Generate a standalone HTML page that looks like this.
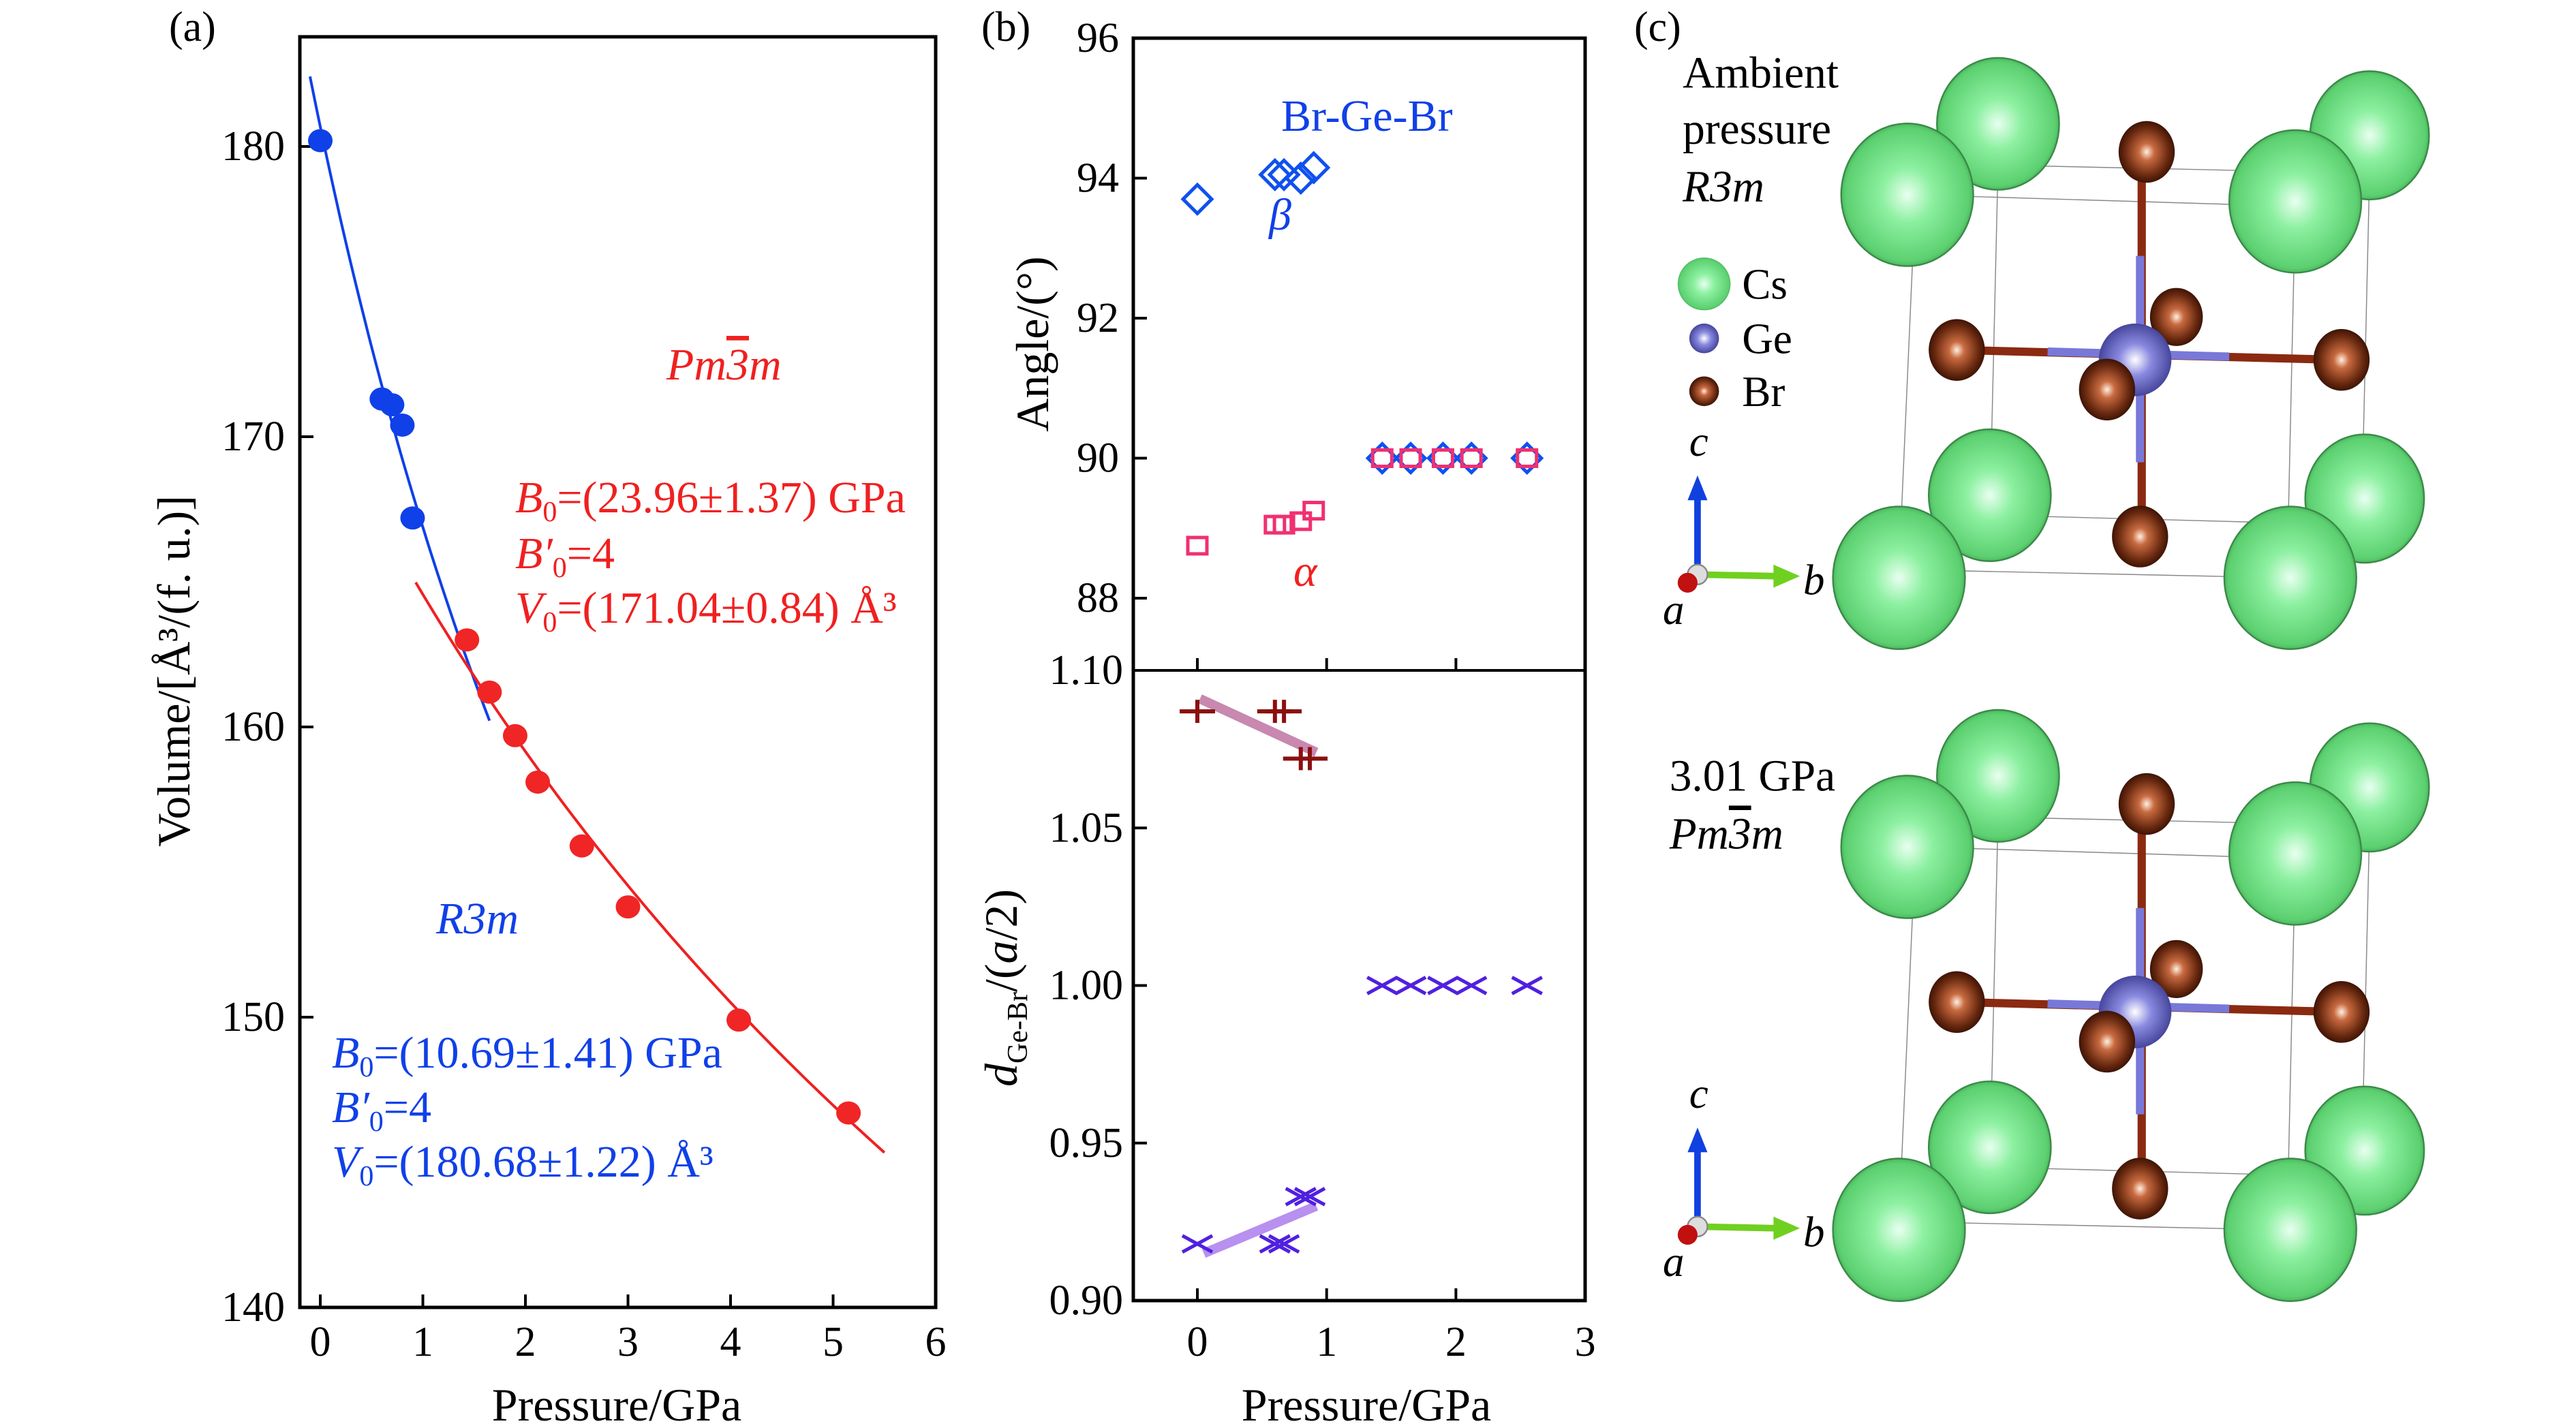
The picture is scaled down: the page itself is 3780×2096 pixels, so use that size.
<!DOCTYPE html>
<html><head><meta charset="utf-8"><style>
html,body{margin:0;padding:0;background:#fff}
svg{display:block}
text{font-family:"Liberation Serif",serif}
</style></head><body>
<svg id="fig" width="3780" height="2096" viewBox="0 0 3780 2096" xmlns="http://www.w3.org/2000/svg">
<defs>
<radialGradient id="gCs" cx="0.5" cy="0.5" r="0.55"><stop offset="0" stop-color="#e8fff0"/><stop offset="0.35" stop-color="#8cf0a0"/><stop offset="0.85" stop-color="#5cd070"/><stop offset="1" stop-color="#3a9048"/></radialGradient>
<radialGradient id="gBr" cx="0.5" cy="0.5" r="0.55"><stop offset="0" stop-color="#fff0e0"/><stop offset="0.25" stop-color="#c86a40"/><stop offset="0.7" stop-color="#6a2a10"/><stop offset="1" stop-color="#2a0a00"/></radialGradient>
<radialGradient id="gGe" cx="0.5" cy="0.5" r="0.55"><stop offset="0" stop-color="#ffffff"/><stop offset="0.4" stop-color="#8a8ae0"/><stop offset="1" stop-color="#3a3a90"/></radialGradient>
</defs>
<g id="pa"></g>
<g id="pb"></g>
<g id="pc"></g>
</svg>
<script>
// ---------- Panel (a) data ----------
const aXTicks = [0,1,2,3,4,5,6];
const aYTicks = [140,150,160,170,180];
const r3mP = [0,0.6,0.7,0.8,0.9];
const r3mV = [180.2,171.3,171.1,170.4,167.2];
const pm3mP = [1.43,1.65,1.9,2.12,2.55,3.0,4.08,5.15];
const pm3mV = [163.0,161.2,159.7,158.1,155.9,153.8,149.9,146.7];
const r3mFit = [10.69,4,180.68];   // B0, B0', V0
const pm3mFit = [23.96,4,171.04];
// ---------- Panel (b) data ----------
const bXTicks = [0,1,2,3];
const angTicks = [88,90,92,94,96];
const dTicks = [0.90,0.95,1.00,1.05,1.10];
const lowP = [0,0.6,0.67,0.8,0.9];
const betaA = [93.7,94.05,94.05,94.0,94.15];
const alphaA = [88.75,89.05,89.05,89.1,89.25];
const highP = [1.43,1.65,1.9,2.12,2.55];
const highA = [90,90,90,90,90];
const plusP = [0,0.6,0.67,0.8,0.87];
const plusD = [1.087,1.087,1.087,1.072,1.072];
const crossLowP = [0,0.6,0.67,0.8,0.87];
const crossLowD = [0.918,0.918,0.918,0.933,0.933];
const crossHighD = [1.0,1.0,1.0,1.0,1.0];
const trendPlusP = [0.02,0.92], trendPlusD = [1.091,1.074];
const trendCrossP = [0.05,0.92], trendCrossD = [0.915,0.930];

const NS="http://www.w3.org/2000/svg";
function mk(parent,tag,attrs,txt){const e=document.createElementNS(NS,tag);for(const k in attrs)e.setAttribute(k,attrs[k]);if(txt!==undefined)e.textContent=txt;parent.appendChild(e);return e;}
const TICK=62, TITLE=68, ANN=66;

// ===== Panel A =====
const pa=document.getElementById('pa');
const ax=p=>470+(p)*150.5;
const ay=v=>1919-(v-140)*42.6;
let e;
e=mk(pa,'rect',{x:440,y:54,width:933,height:1865,fill:'none',stroke:'#000','stroke-width':5});

aXTicks.forEach(t=>{
  e=mk(pa,'line',{x1:ax(t),x2:ax(t),y1:1919,y2:1900,stroke:'#000','stroke-width':4});
  
  e=mk(pa,'text',{x:ax(t),y:1990,'font-size':TICK,'text-anchor':'middle'},String(t));
  
});
aYTicks.forEach(t=>{
  e=mk(pa,'line',{x1:440,x2:460,y1:ay(t),y2:ay(t),stroke:'#000','stroke-width':4});
  
  e=mk(pa,'text',{x:418,y:ay(t)+20,'font-size':TICK,'text-anchor':'end'},String(t));
  
});
e=mk(pa,'text',{x:905,y:2085,'font-size':TITLE,'text-anchor':'middle'},'Pressure/GPa');

e=mk(pa,'text',{x:0,y:0,'font-size':TITLE,'text-anchor':'middle',transform:'translate(278,985) rotate(-90)'},'Volume/[Å³/(f. u.)]');

e=mk(pa,'text',{x:248,y:60,'font-size':TICK},'(a)');

function murn(fit,p){return fit[2]*Math.pow(1+fit[1]*p/fit[0],-1/fit[1]);}
function fitPath(fit,p0,p1){let d='';for(let i=0;i<=80;i++){const p=p0+(p1-p0)*i/80;d+=(i?'L':'M')+ax(p).toFixed(1)+','+ay(murn(fit,p)).toFixed(1);}return d;}
e=mk(pa,'path',{d:fitPath(r3mFit,-0.1,1.65),fill:'none',stroke:'#1040e8','stroke-width':4});

e=mk(pa,'path',{d:fitPath(pm3mFit,0.93,5.5),fill:'none',stroke:'#f02020','stroke-width':4});

r3mP.forEach((p,i)=>{e=mk(pa,'ellipse',{cx:ax(p),cy:ay(r3mV[i]),rx:18,ry:17,fill:'#1040e8'});
  });
pm3mP.forEach((p,i)=>{e=mk(pa,'ellipse',{cx:ax(p),cy:ay(pm3mV[i]),rx:18,ry:17,fill:'#f02525'});
  });
function pm3m(g,x,y,size,col,name){const t=mk(g,'text',{x:x,y:y,'font-size':size,fill:col,'font-style':'italic'});
  
  mk(t,'tspan',{},'Pm');mk(t,'tspan',{'text-decoration':'overline'},'3');mk(t,'tspan',{},'m');return t;}
pm3m(pa,978,557,ANN,'#f02020','pm3m-label');
function ann(g,x,rows,col,name){rows.forEach((r)=>{const t=mk(g,'text',{x:x,y:r[3],'font-size':ANN,fill:col});
  
  mk(t,'tspan',{'font-style':'italic'},r[0]);mk(t,'tspan',{'font-size':42,dy:13},r[1]);mk(t,'tspan',{dy:-13},r[2]);});}
ann(pa,756,[['B','0','=(23.96±1.37) GPa',752],["B′",'0','=4',834],['V','0','=(171.04±0.84) Å³',914]],'#f02020','pm3m-fit-params');
e=mk(pa,'text',{x:640,y:1370,'font-size':ANN,fill:'#1040e8','font-style':'italic'},'R3m');

ann(pa,487,[['B','0','=(10.69±1.41) GPa',1567],["B′",'0','=4',1647],['V','0','=(180.68±1.22) Å³',1727]],'#1040e8','r3m-fit-params');

// ===== Panel B =====
const pb=document.getElementById('pb');
const bx=p=>1757+p*189.7;
const by1=a=>878-(a-88)*102.75;
const by2=d=>1909-(d-0.9)*4625;
e=mk(pb,'rect',{x:1663,y:56,width:663,height:1853,fill:'none',stroke:'#000','stroke-width':5});

e=mk(pb,'line',{x1:1663,x2:2326,y1:984,y2:984,stroke:'#000','stroke-width':4});

bXTicks.forEach(t=>{
  [984,1909].forEach(yy=>{e=mk(pb,'line',{x1:bx(t),x2:bx(t),y1:yy,y2:yy-18,stroke:'#000','stroke-width':4});
  });
  e=mk(pb,'text',{x:bx(t),y:1990,'font-size':TICK,'text-anchor':'middle'},String(t));
  
});
angTicks.forEach(t=>{
  e=mk(pb,'line',{x1:1663,x2:1683,y1:by1(t),y2:by1(t),stroke:'#000','stroke-width':4});
  
  e=mk(pb,'text',{x:1642,y:by1(t)+20,'font-size':TICK,'text-anchor':'end'},String(t));
  
});
dTicks.forEach(t=>{
  e=mk(pb,'line',{x1:1663,x2:1683,y1:by2(t),y2:by2(t),stroke:'#000','stroke-width':4});
  
  e=mk(pb,'text',{x:1648,y:by2(t)+20,'font-size':TICK,'text-anchor':'end'},t.toFixed(2));
  
});
e=mk(pb,'text',{x:2005,y:2085,'font-size':TITLE,'text-anchor':'middle'},'Pressure/GPa');

e=mk(pb,'text',{x:0,y:0,'font-size':TITLE,'text-anchor':'middle',transform:'translate(1538,505) rotate(-90)'},'Angle/(°)');

e=mk(pb,'text',{x:0,y:0,'font-size':TITLE,'text-anchor':'middle',transform:'translate(1492,1450) rotate(-90)'});

mk(e,'tspan',{'font-style':'italic'},'d');mk(e,'tspan',{'font-size':42,dy:15},'Ge-Br');mk(e,'tspan',{dy:-15},'/(');mk(e,'tspan',{'font-style':'italic'},'a');mk(e,'tspan',{},'/2)');
e=mk(pb,'text',{x:1440,y:60,'font-size':TICK},'(b)');

e=mk(pb,'text',{x:1880,y:192,'font-size':ANN,fill:'#1040e8'},'Br-Ge-Br');

e=mk(pb,'text',{x:1862,y:337,'font-size':ANN,fill:'#1040e8','font-style':'italic'},'β');

e=mk(pb,'text',{x:1898,y:860,'font-size':ANN,fill:'#f02020','font-style':'italic'},'α');

function diamond(x,y,name){const s=21;e=mk(pb,'path',{d:`M${x-s},${y}L${x},${y-s}L${x+s},${y}L${x},${y+s}Z`,fill:'none',stroke:'#1050f0','stroke-width':5});
  }
function square(x,y,name){const s=14;e=mk(pb,'rect',{x:x-s,y:y-s+2,width:2*s,height:2*s-4,fill:'none',stroke:'#f03070','stroke-width':5});
  }
lowP.forEach((p,i)=>diamond(bx(p),by1(betaA[i]),'beta-point'));
highP.forEach((p,i)=>diamond(bx(p),by1(highA[i]),'beta-point'));
lowP.forEach((p,i)=>square(bx(p),by1(alphaA[i]),'alpha-point'));
highP.forEach((p,i)=>square(bx(p),by1(highA[i]),'alpha-point'));
e=mk(pb,'line',{x1:bx(trendPlusP[0]),y1:by2(trendPlusD[0]),x2:bx(trendPlusP[1]),y2:by2(trendPlusD[1]),stroke:'#c888b0','stroke-width':14});

e=mk(pb,'line',{x1:bx(trendCrossP[0]),y1:by2(trendCrossD[0]),x2:bx(trendCrossP[1]),y2:by2(trendCrossD[1]),stroke:'#b890f0','stroke-width':14});

function plus(x,y){e=mk(pb,'path',{d:`M${x-26},${y}H${x+26}M${x},${y-17}V${y+17}`,stroke:'#8a1010','stroke-width':6,fill:'none'});
  }
function cross(x,y){e=mk(pb,'path',{d:`M${x-22},${y-12}L${x+22},${y+12}M${x-22},${y+12}L${x+22},${y-12}`,stroke:'#5020e0','stroke-width':5,fill:'none'});
  }
plusP.forEach((p,i)=>plus(bx(p),by2(plusD[i])));
crossLowP.forEach((p,i)=>cross(bx(p),by2(crossLowD[i])));
highP.forEach((p,i)=>cross(bx(p),by2(crossHighD[i])));

// ===== Panel C (drawn in preview coords scaled) =====
const pc=document.getElementById('pc');
const S=3780/1560;
e=mk(pc,'text',{x:2398,y:60,'font-size':TICK},'(c)');

function structure(dy,name){
  const g=mk(pc,'g',{transform:`scale(${S}) translate(0,${dy})`});
  
  mk(g,'path',{d:'M1210,100L1435,105L1430,318L1205,312ZM1160,118L1390,125L1385,350L1150,345ZM1210,100L1160,118M1435,105L1390,125M1430,318L1385,350M1205,312L1150,345',fill:'none',stroke:'#888','stroke-width':0.6});
  const cs=(x,y,r)=>{const c=mk(g,'ellipse',{cx:x,cy:y,rx:r,ry:r*1.08,fill:'url(#gCs)',stroke:'#3a8a48','stroke-width':1});};
  const br=(x,y,r)=>{const c=mk(g,'ellipse',{cx:x,cy:y,rx:r,ry:r*1.1,fill:'url(#gBr)'});};
  cs(1210,75,37);cs(1435,82,36);cs(1205,300,37);cs(1432,302,36);
  br(1318,192,16);
  mk(g,'path',{d:'M1297,92V325M1185,212L1418,218',stroke:'#8a2a10','stroke-width':5});
  mk(g,'path',{d:'M1296,155V280M1240,213L1350,216',stroke:'#7878d8','stroke-width':5});
  cs(1155,118,40);cs(1390,122,40);
  br(1300,92,17);br(1185,212,17);br(1418,218,17);br(1296,325,17);
  const ge=mk(g,'circle',{cx:1293,cy:218,r:22,fill:'url(#gGe)'});
  br(1276,236,17);
  cs(1150,350,40);cs(1387,350,40);
  mk(g,'line',{x1:1028,y1:348,x2:1028,y2:300,stroke:'#1040e0','stroke-width':4});
  mk(g,'path',{d:'M1022,303L1028,288L1034,303Z',fill:'#1040e0'});
  mk(g,'line',{x1:1028,y1:348,x2:1075,y2:349,stroke:'#70d020','stroke-width':4});
  mk(g,'path',{d:'M1074,342L1090,349L1074,356Z',fill:'#70d020'});
  mk(g,'circle',{cx:1028,cy:348,r:6,fill:'#ddd',stroke:'#888','stroke-width':1});
  mk(g,'circle',{cx:1022,cy:353,r:6,fill:'#c01010'});
  let t;
  t=mk(g,'text',{x:1023,y:276,'font-size':26,'font-style':'italic'},'c');
  t=mk(g,'text',{x:1092,y:360,'font-size':26,'font-style':'italic'},'b');
  t=mk(g,'text',{x:1007,y:378,'font-size':26,'font-style':'italic'},'a');
  return g;
}
structure(0,'ambient-structure');
structure(395,'high-pressure-structure');
function tx(x,y,s,it,name){const t=mk(pc,'text',{x:x*S,y:y*S,'font-size':27*S,'font-style':it?'italic':'normal'},s);return t;}
tx(1019,53,'Ambient',false,'ambient-title');
tx(1019,87,'pressure',false,'ambient-title');
tx(1019,122,'R3m',true,'ambient-space-group');
tx(1011,479,'3.01 GPa',false,'pressure-title');
pm3m(pc,1011*S,514*S,27*S,'#000','high-pressure-space-group');
[['url(#gCs)',1032,172,16,'Cs'],['url(#gGe)',1032,205,9,'Ge'],['url(#gBr)',1032,237,9,'Br']].forEach(l=>{
  e=mk(pc,'circle',{cx:l[1]*S,cy:l[2]*S,r:l[3]*S,fill:l[0]});
  e=mk(pc,'text',{x:1055*S,y:(l[2]+9)*S,'font-size':26*S},l[4]);
});
</script>
</body></html>
